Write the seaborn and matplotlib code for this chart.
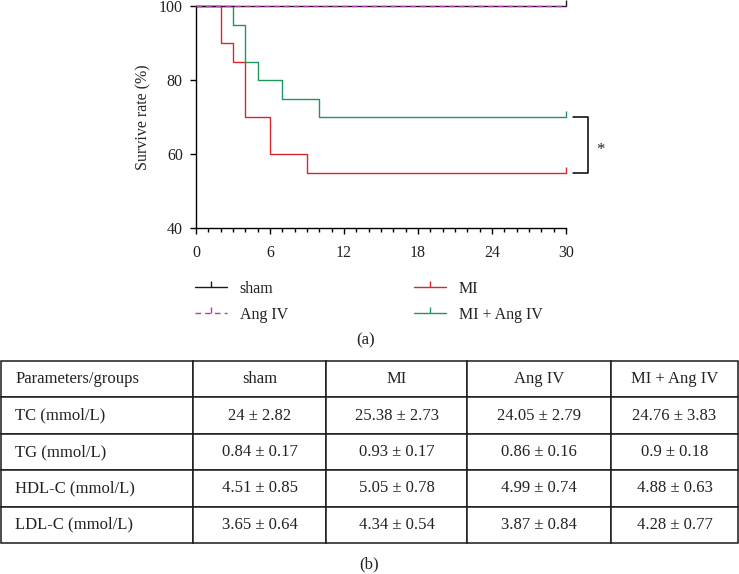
import matplotlib
matplotlib.use("Agg")
import matplotlib.pyplot as plt
from matplotlib.lines import Line2D
from matplotlib.ticker import MultipleLocator
import seaborn as sns
import pandas as pd

# ---------------- data ----------------
groups = ["sham", "Ang IV", "MI", "MI + Ang IV"]
sham_days = [0, 30]
sham_surv = [100, 100]
angiv_days = [0, 30]
angiv_surv = [100, 100]
mi_days = [0, 2, 3, 4, 6, 9, 30]
mi_surv = [100, 90, 85, 70, 60, 55, 55]
miang_days = [0, 3, 4, 5, 7, 10, 30]
miang_surv = [100, 95, 85, 80, 75, 70, 70]

x_ticks = [0, 6, 12, 18, 24, 30]
y_ticks = [40, 60, 80, 100]

table_cols = ["Parameters/groups", "sham", "MI", "Ang IV", "MI + Ang IV"]
table_params = ["TC (mmol/L)", "TG (mmol/L)", "HDL-C (mmol/L)", "LDL-C (mmol/L)"]
sham_vals = ["24 ± 2.82", "0.84 ± 0.17", "4.51 ± 0.85", "3.65 ± 0.64"]
mi_vals = ["25.38 ± 2.73", "0.93 ± 0.17", "5.05 ± 0.78", "4.34 ± 0.54"]
angiv_vals = ["24.05 ± 2.79", "0.86 ± 0.16", "4.99 ± 0.74", "3.87 ± 0.84"]
miang_vals = ["24.76 ± 3.83", "0.9 ± 0.18", "4.88 ± 0.63", "4.28 ± 0.77"]

# ---------------- style ----------------
sns.set_style("ticks")
plt.rcParams["font.family"] = ["Liberation Serif", "DejaVu Serif"]
plt.rcParams["axes.linewidth"] = 1.0

colors = {"sham": "#1a1a1a", "Ang IV": "#b23cb0", "MI": "#d8262c", "MI + Ang IV": "#22965a"}
styles = {"sham": "-", "Ang IV": (0, (4, 3)), "MI": "-", "MI + Ang IV": "-"}
show_end_tick = {"sham": True, "Ang IV": False, "MI": True, "MI + Ang IV": True}
tick_marker = [(0, 0), (0, 1)]

W, H = 739, 574
fig = plt.figure(figsize=(W / 100, H / 100), dpi=100)

def fx(px):
    return px / W

def fy(py):
    return 1 - py / H

ax_l, ax_r, ax_t, ax_b = 196, 566, 6, 228
ax = fig.add_axes([fx(ax_l), fy(ax_b), fx(ax_r - ax_l), (ax_b - ax_t) / H])

series = {
    "sham": (sham_days, sham_surv),
    "Ang IV": (angiv_days, angiv_surv),
    "MI": (mi_days, mi_surv),
    "MI + Ang IV": (miang_days, miang_surv),
}
frames = []
for g, (d, s) in series.items():
    frames.append(pd.DataFrame({"day": d, "surv": s, "group": g}))
df = pd.concat(frames, ignore_index=True)

for g in ["MI", "MI + Ang IV", "sham", "Ang IV"]:
    sub = df[df["group"] == g]
    kw = {}
    if show_end_tick[g]:
        kw = dict(marker=tick_marker, markevery=[-1], markersize=9,
                  markeredgecolor=colors[g], markeredgewidth=1.0)
    sns.lineplot(data=sub, x="day", y="surv", ax=ax, color=colors[g],
                 linestyle=styles[g], drawstyle="steps-post", estimator=None,
                 linewidth=1.0, legend=False, clip_on=False, zorder=3, **kw)

ax.set_xlim(0, 30)
ax.set_ylim(40, 100)
ax.set_xticks(x_ticks)
ax.xaxis.set_minor_locator(MultipleLocator(1))
ax.set_yticks(y_ticks)
ax.set_xlabel("")
ax.set_ylabel("Survive rate (%)", fontsize=11.5, labelpad=5)
sns.despine(ax=ax)
for sp in ["left", "bottom"]:
    ax.spines[sp].set_linewidth(1.0)
    ax.spines[sp].set_color("black")
ax.tick_params(axis="both", which="major", length=4.5, width=1.0, color="black",
               labelsize=11.5, labelcolor="#222222")
ax.tick_params(axis="x", which="major", pad=8)
ax.tick_params(axis="y", which="major", pad=5)
ax.tick_params(axis="x", which="minor", length=3, width=1.0, color="black")

# significance bracket between MI and MI + Ang IV
y_hi = miang_surv[-1]
y_lo = mi_surv[-1]
bx0, bx1 = 30.55, 31.8
ax.plot([bx0, bx1, bx1, bx0], [y_hi, y_hi, y_lo, y_lo], color="black", lw=1.1,
        clip_on=False)
ax.text(32.75, (y_hi + y_lo) / 2 - 1.3, "*", fontsize=12, ha="center", va="center")

# legend
handles = [Line2D([0], [0], color=colors[g], linestyle=styles[g], lw=1.0,
                  marker=tick_marker, markersize=8, markeredgecolor=colors[g],
                  markeredgewidth=1.0) for g in groups]
leg = fig.legend(handles, groups, loc="upper left", ncol=2, frameon=False,
                 bbox_to_anchor=(fx(195), fy(281)), borderpad=0, borderaxespad=0,
                 handlelength=2.0, handletextpad=0.8, columnspacing=7.9,
                 labelspacing=0.6, fontsize=11.5, numpoints=1)
for t in leg.get_texts():
    t.set_color("#222222")

fig.text(fx(366), fy(340), "(a)", fontsize=12, ha="center", va="center", color="#222222")

# table
tab_l, tab_r, tab_t, tab_b = 1, 738, 361, 543
ax_tab = fig.add_axes([fx(tab_l), fy(tab_b), fx(tab_r - tab_l), (tab_b - tab_t) / H])
ax_tab.axis("off")
cell_text = [[p, a, b, c, d] for p, a, b, c, d in zip(table_params, sham_vals, mi_vals, angiv_vals, miang_vals)]
col_bounds = [1, 193, 326, 467, 611, 738]
col_w = [(col_bounds[i + 1] - col_bounds[i]) / (tab_r - tab_l) for i in range(5)]
tbl = ax_tab.table(cellText=[table_cols] + cell_text, colWidths=col_w,
                   cellLoc="center", bbox=[0, 0, 1, 1])
tbl.auto_set_font_size(False)
for (r, c), cell in tbl.get_celld().items():
    cell.set_edgecolor("#1a1a1a")
    cell.set_linewidth(1.1)
    cell.set_facecolor("white")
    cell.get_text().set_fontsize(12)
    cell.get_text().set_color("#222222")
    if c == 0:
        cell.get_text().set_horizontalalignment("left")
        cell.PAD = 0.075

fig.text(fx(369), fy(564), "(b)", fontsize=12, ha="center", va="center", color="#222222")

fig.savefig("out.png", dpi=100)
